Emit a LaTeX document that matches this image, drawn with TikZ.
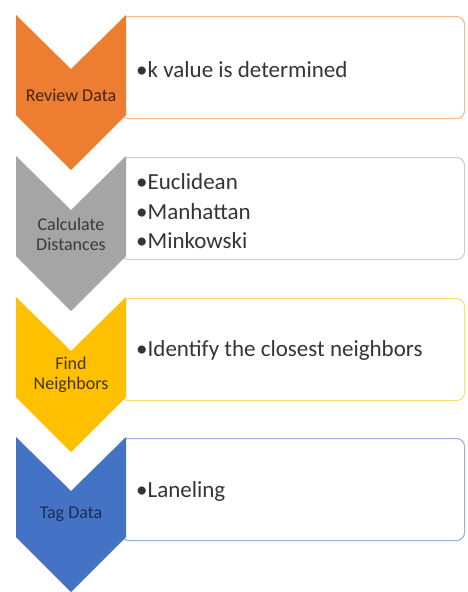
\documentclass[tikz,border=0pt]{standalone}
\usepackage{fontspec}
\setmainfont{Carlito}
\definecolor{corange}{HTML}{ED7D31}
\definecolor{cgray}{HTML}{A5A5A5}
\definecolor{cgold}{HTML}{FFC000}
\definecolor{cblue}{HTML}{4472C4}
\definecolor{btext}{HTML}{353535}
\begin{document}
\begin{tikzpicture}[x=1pt,y=-1pt,
  box/.style={draw=#1!55!white, line width=1.1pt, fill=white, rounded corners=8pt,
    minimum width=344pt, minimum height=102pt, inner sep=0pt, anchor=north west},
  lab/.style={text=#1, align=center, font=\fontsize{18}{20}\selectfont, inner sep=0pt},
  item/.style={text=btext, align=left, anchor=west, font=\fontsize{23}{29.5}\selectfont, inner sep=0pt}]
\useasboundingbox (0,0) rectangle (467,592);
% step 1
\node[box=corange] (b1) at (120,16) {};
\fill[corange] (16,15) -- (71,69) -- (126,15) -- (126,115) -- (71,170) -- (16,115) -- cycle;
\node[lab=corange!30!black] (l1) at (71,95) {Review Data};
\node[item] (t1) at ([xshift=16pt,yshift=-2pt]b1.west) {•k value is determined};
% step 2
\node[box=cgray] (b2) at (120,157) {};
\fill[cgray] (16,156) -- (71,210) -- (126,156) -- (126,256) -- (71,311) -- (16,256) -- cycle;
\node[lab=cgray!35!black] (l2) at (71,234) {Calculate\\Distances};
\node[item] (t2) at ([xshift=16pt,yshift=-3pt]b2.west) {•Euclidean\\•Manhattan\\•Minkowski};
% step 3
\node[box=cgold] (b3) at (120,298) {};
\fill[cgold] (16,297) -- (71,351) -- (126,297) -- (126,397) -- (71,452) -- (16,397) -- cycle;
\node[lab=cgold!28!black] (l3) at (71,375) {Find\\Neighbors};
\node[item] (t3) at ([xshift=16pt,yshift=-1pt]b3.west) {•Identify the closest neighbors};
% step 4
\node[box=cblue] (b4) at (120,438) {};
\fill[cblue] (16,437) -- (71,491) -- (126,437) -- (126,537) -- (71,592) -- (16,537) -- cycle;
\node[lab=cblue!40!black] (l4) at (71,514) {Tag Data};
\node[item] (t4) at ([xshift=16pt,yshift=-2pt]b4.west) {•Laneling};
\end{tikzpicture}
\end{document}
